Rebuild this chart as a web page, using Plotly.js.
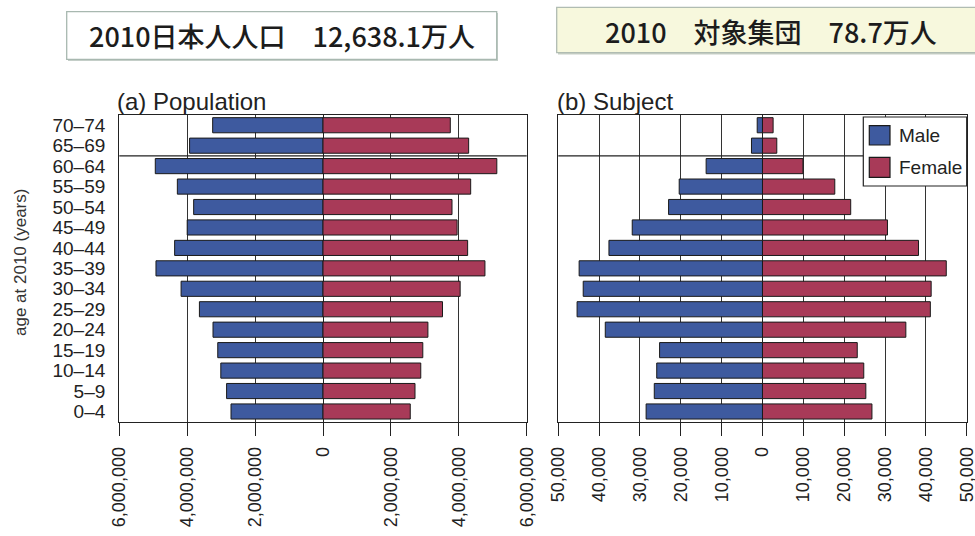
<!DOCTYPE html>
<html>
<head>
<meta charset="utf-8">
<script src="https://cdn.plot.ly/plotly-3.0.1.min.js"></script>
<style>
  html, body { margin: 0; padding: 0; background: #fff; }
  #chart { width: 975px; height: 536px; }
</style>
</head>
<body>
<div id="chart"></div>
<script>
// Age groups, youngest at the bottom
const ageGroups = ['0–4', '5–9', '10–14', '15–19', '20–24', '25–29', '30–34',
                   '35–39', '40–44', '45–49', '50–54', '55–59', '60–64', '65–69', '70–74'];

// (a) Japanese population, 2010 (persons)
const popMale   = [2710000, 2840000, 3010000, 3100000, 3240000, 3640000, 4180000,
                   4920000, 4370000, 4000000, 3810000, 4290000, 4940000, 3930000, 3250000];
const popFemale = [2570000, 2710000, 2880000, 2940000, 3090000, 3520000, 4040000,
                   4770000, 4260000, 3950000, 3800000, 4350000, 5120000, 4290000, 3750000];

// (b) Subject cohort, 2010 (persons)
const subMale   = [28500, 26500, 25900, 25200, 38500, 45400, 43900,
                   44900, 37600, 31900, 23000, 20400, 13800, 2700, 1300];
const subFemale = [26800, 25300, 24800, 23200, 35100, 41100, 41300,
                   45000, 38200, 30600, 21600, 17700, 9900, 3500, 2600];

const seriesNames = ['Male', 'Female'];

// Axis ticks
const popTickVals = [-6000000, -4000000, -2000000, 0, 2000000, 4000000, 6000000];
const popTickText = ['6,000,000', '4,000,000', '2,000,000', '0', '2,000,000', '4,000,000', '6,000,000'];
const subTickVals = [-50000, -40000, -30000, -20000, -10000, 0, 10000, 20000, 30000, 40000, 50000];
const subTickText = ['50,000', '40,000', '30,000', '20,000', '10,000', '0',
                     '10,000', '20,000', '30,000', '40,000', '50,000'];

// Headings and labels
const headerLeft  = '2010日本人人口　12,638.1万人';
const headerRight = '2010　対象集団　78.7万人';
const panelTitles = ['(a) Population', '(b) Subject'];
const yTitle = 'age at 2010 (years)';

// Style
const COLORS = { male: '#3e5a9f', female: '#a83a58' };
const INK = '#222222';
const FONT = 'Liberation Sans, Arial, Helvetica, sans-serif';
const CJK = 'Noto Sans CJK JP, Noto Sans, sans-serif';
const W = 975, H = 536;
const px = x => x / W;          // pixel -> paper x
const py = y => 1 - y / H;      // pixel -> paper y

const neg = arr => arr.map(v => -v);

function barTrace(x, name, color, xa, ya) {
  return {
    type: 'bar', orientation: 'h', x: x, y: ageGroups, name: name,
    xaxis: xa, yaxis: ya, showlegend: false,
    marker: { color: color, line: { color: '#1a1a1a', width: 1 } },
    hovertemplate: '%{y}: %{customdata:,}<extra>' + name + '</extra>',
    customdata: x.map(Math.abs)
  };
}

const traces = [
  barTrace(neg(popMale), seriesNames[0], COLORS.male, 'x', 'y'),
  barTrace(popFemale, seriesNames[1], COLORS.female, 'x', 'y'),
  barTrace(neg(subMale), seriesNames[0], COLORS.male, 'x2', 'y2'),
  barTrace(subFemale, seriesNames[1], COLORS.female, 'x2', 'y2')
];

const plotTop = 115, plotBottom = 421.7;
const yDomain = [py(plotBottom), py(plotTop)];

function xAxis(domain, range, vals, text, anchor) {
  return {
    domain: domain, range: range, anchor: anchor, fixedrange: true,
    tickmode: 'array', tickvals: vals, ticktext: text, tickangle: -90,
    ticks: 'outside', ticklen: 13, tickwidth: 1, tickcolor: INK,
    ticklabelstandoff: 4, ticklabeloverflow: 'allow',
    tickfont: { family: FONT, size: 18, color: INK },
    showgrid: true, gridcolor: '#333333', gridwidth: 1,
    zeroline: true, zerolinecolor: INK, zerolinewidth: 1,
    showline: true, linecolor: INK, linewidth: 1.2, mirror: true
  };
}

function yAxis(anchor, showLabels) {
  return {
    domain: yDomain, anchor: anchor, type: 'category', fixedrange: true,
    categoryorder: 'array', categoryarray: ageGroups, range: [-0.5, ageGroups.length - 0.5],
    tickmode: 'array', tickvals: ageGroups, ticktext: ageGroups,
    showticklabels: showLabels, ticks: '', ticklabelstandoff: 9,
    tickfont: { family: FONT, size: 19, color: INK },
    showgrid: false, zeroline: false,
    showline: true, linecolor: INK, linewidth: 1.2, mirror: true
  };
}

// 65+ boundary across each panel
const sep = ageGroups.indexOf('65–69') - 0.5;
const shapes = [
  { type: 'line', xref: 'x domain', yref: 'y', x0: 0, x1: 1, y0: sep, y1: sep,
    line: { color: INK, width: 1.2 }, layer: 'above' },
  { type: 'line', xref: 'x2 domain', yref: 'y2', x0: 0, x1: 1, y0: sep, y1: sep,
    line: { color: INK, width: 1.2 }, layer: 'above' },

  // header boxes
  { type: 'rect', xref: 'paper', yref: 'paper', x0: px(68), x1: px(498), y0: py(61), y1: py(13),
    fillcolor: '#c4cec8', line: { width: 0 }, layer: 'above' },
  { type: 'rect', xref: 'paper', yref: 'paper', x0: px(66.7), x1: px(496.7), y0: py(59.3), y1: py(11.7),
    fillcolor: '#ffffff', line: { color: '#a8b8b0', width: 1.3 }, layer: 'above' },
  { type: 'rect', xref: 'paper', yref: 'paper', x0: px(558), x1: px(990), y0: py(54.5), y1: py(9),
    fillcolor: '#c8d0c6', line: { width: 0 }, layer: 'above' },
  { type: 'rect', xref: 'paper', yref: 'paper', x0: px(556.7), x1: px(990), y0: py(52.7), y1: py(7.3),
    fillcolor: '#f7f8dd', line: { color: '#b0bcb2', width: 1.3 }, layer: 'above' },

  // legend
  { type: 'rect', xref: 'paper', yref: 'paper', x0: px(863.3), x1: px(966.7), y0: py(186), y1: py(117),
    fillcolor: '#ffffff', line: { color: INK, width: 1.2 }, layer: 'above' },
  { type: 'rect', xref: 'paper', yref: 'paper', x0: px(869.3), x1: px(890), y0: py(145), y1: py(125.7),
    fillcolor: COLORS.male, line: { color: '#1a1a1a', width: 1.2 }, layer: 'above' },
  { type: 'rect', xref: 'paper', yref: 'paper', x0: px(869.3), x1: px(890), y0: py(177.3), y1: py(157.3),
    fillcolor: COLORS.female, line: { color: '#1a1a1a', width: 1.2 }, layer: 'above' }
];

function label(text, x, y, opts) {
  return Object.assign({
    text: text, xref: 'paper', yref: 'paper', x: px(x), y: py(y),
    showarrow: false, xanchor: 'left', yanchor: 'middle',
    font: { family: FONT, size: 18, color: INK }
  }, opts || {});
}

const headFont = { family: CJK, size: 27, color: '#1c1c1c', weight: 500 };
const annotations = [
  label(headerLeft, 281.7, 36, { xanchor: 'center', font: headFont }),
  label(headerRight, 771, 31, { xanchor: 'center', font: headFont }),
  label(panelTitles[0], 115, 101, { font: { family: FONT, size: 24, color: INK } }),
  label(panelTitles[1], 555, 101, { font: { family: FONT, size: 24, color: INK } }),
  label(yTitle, 20, 263, { xanchor: 'center', textangle: -90, font: { family: FONT, size: 17, color: '#333' } }),
  label(seriesNames[0], 897, 135, { font: { family: FONT, size: 19, color: INK } }),
  label(seriesNames[1], 897, 167.5, { font: { family: FONT, size: 19, color: INK } })
];

const layout = {
  width: W, height: H,
  margin: { l: 0, r: 0, t: 0, b: 0, pad: 0 },
  paper_bgcolor: '#ffffff', plot_bgcolor: '#ffffff',
  barmode: 'relative', bargap: 0.26,
  showlegend: false,
  font: { family: FONT, color: INK },
  xaxis:  xAxis([px(119.3), px(526.7)], [-6000000, 6000000], popTickVals, popTickText, 'y'),
  yaxis:  yAxis('x', true),
  xaxis2: xAxis([px(558.3), px(966.7)], [-50000, 50000], subTickVals, subTickText, 'y2'),
  yaxis2: yAxis('x2', false),
  shapes: shapes,
  annotations: annotations
};

Plotly.newPlot('chart', traces, layout, { staticPlot: true, displayModeBar: false });
</script>
</body>
</html>
